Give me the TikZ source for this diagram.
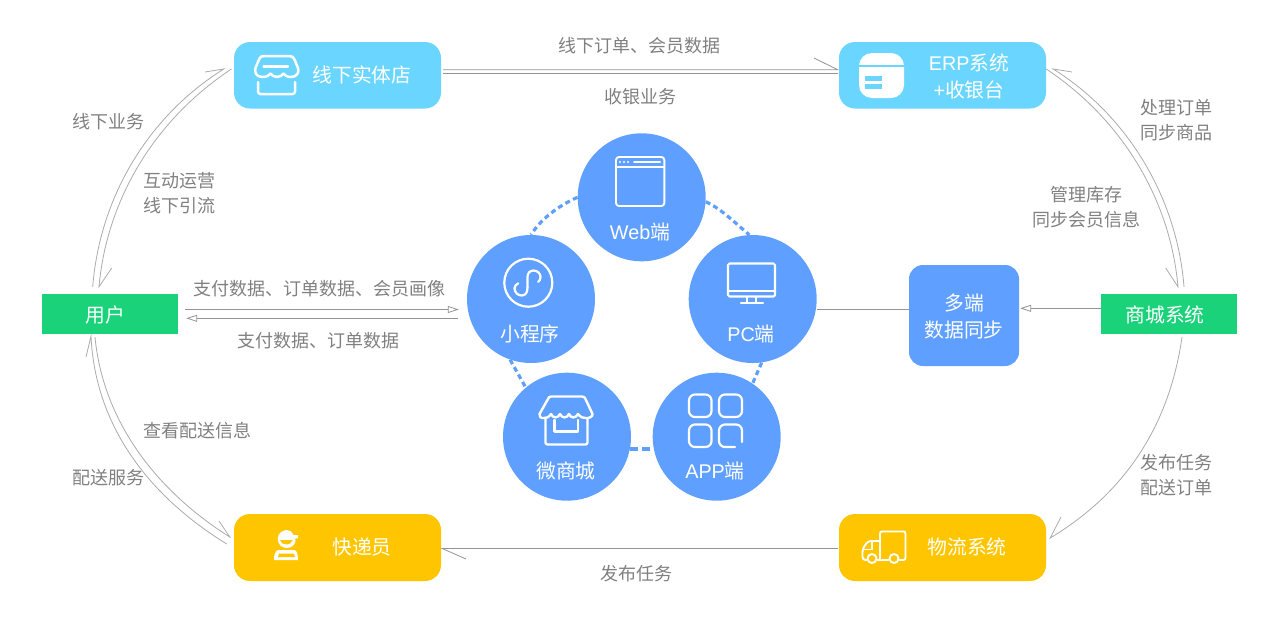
\documentclass[tikz,border=0pt]{standalone}
\usepackage{fontspec}
\setmainfont{Noto Sans CJK SC}
\newfontfamily\lat{Liberation Sans}
\usetikzlibrary{arrows.meta}
\definecolor{skyb}{HTML}{6AD6FF}
\definecolor{ambr}{HTML}{FFC600}
\definecolor{grn}{HTML}{1AD27A}
\definecolor{blu}{HTML}{5F9FFF}
\definecolor{txtg}{HTML}{808080}
\definecolor{lng}{HTML}{ABABAB}
\tikzset{
  cardbox/.style={rounded corners=16pt,minimum width=207pt,minimum height=66.5pt,inner sep=0pt,draw=none},
  greenbox/.style={fill=grn,minimum width=136pt,minimum height=40pt,inner sep=0pt,draw=none},
  disc/.style={circle,fill=blu,minimum size=128pt,inner sep=0pt,draw=none},
  wtext/.style={text=white,font=\fontsize{19.8}{22}\selectfont,inner sep=0pt,align=center},
  gtext/.style={text=txtg,font=\fontsize{18}{25}\selectfont,inner sep=0pt,align=center},
  conn/.style={draw=lng,line width=0.8pt,line join=miter},
  hconn/.style={draw=black!42,line width=0.8pt,line join=miter},
  ring/.style={draw=blu,line width=3.2pt,dash pattern=on 5pt off 3.5pt},
  icon/.style={draw=white,line width=2.2pt,line join=round,line cap=round,fill=none},
  triend/.style={-{Triangle[open,length=11pt,width=7pt]}},
}
\begin{document}
\begin{tikzpicture}[x=1pt,y=-1pt]
\useasboundingbox (0,0) rectangle (1280,630);

% discs and boxes
\node[disc] (web) at (641.7,197.3) {};
\node[disc] (pc) at (752.7,299) {};
\node[disc] (mini) at (531,299) {};
\node[disc] (shop) at (567,436.7) {};
\node[disc] (app) at (716.7,436.7) {};
\node[cardbox,fill=skyb] (store) at (337.5,75.25) {};
\node[cardbox,fill=skyb] (erp) at (942.5,75.25) {};
\node[cardbox,fill=ambr,minimum height=67pt] (courier) at (337.5,547.5) {};
\node[cardbox,fill=ambr,minimum height=67pt] (truck) at (942.5,547.5) {};
\node[greenbox] (user) at (110,314) {};
\node[greenbox] (mall) at (1169,314) {};
\node[fill=blu,rounded corners=14pt,minimum width=110pt,minimum height=101pt,inner sep=0pt] (sync) at (964,315.5) {};

% dotted ring
\draw[ring] (web.180) .. controls (558,206) and (541,219) .. (mini.90);
\draw[ring] (web.-4) .. controls (720,208) and (733,221) .. (pc.93);
\draw[ring] (pc.-82) -- (app.56);
\draw[ring] (mini.-109) -- (shop.130);
\draw[ring,dash pattern=on 8pt off 4pt] (shop.-11) -- (app.191);

% curved connectors
\draw[conn] ([shift={(-17.3pt,7pt)}]user.north) .. controls (100,195) and (150,115) .. ([shift={(-10pt,6.25pt)}]store.west) -- (205,72);
\draw[conn] ([shift={(-2.3pt,6.25pt)}]store.west) .. controls (157,118) and (107,197) .. ([shift={(-11pt,7pt)}]user.north) -- (111.7,268);
\draw[conn] ([shift={(15pt,7pt)}]mall.north) .. controls (1177,197) and (1127,115) .. ([shift={(7pt,6.25pt)}]erp.east) -- (1072,72);
\draw[conn] ([shift={(0pt,6.25pt)}]erp.east) .. controls (1120,118) and (1170,197) .. ([shift={(9pt,7pt)}]mall.north) -- (1165.7,268);
\draw[conn] ([shift={(-15pt,-3pt)}]user.south) .. controls (103,420) and (155,490) .. ([shift={(-4pt,10.5pt)}]courier.west) -- (219,521);
\draw[conn] ([shift={(-7pt,3.5pt)}]courier.west) .. controls (147,495) and (95,424) .. ([shift={(-19pt,-2pt)}]user.south) -- (86,357);
\draw[conn] ([shift={(13pt,-3pt)}]mall.south) .. controls (1170,420) and (1130,490) .. ([shift={(4pt,9.5pt)}]truck.east) -- (1061,517);

% straight connectors
\draw[hconn] ([shift={(2pt,5.5pt)}]store.east) -- ([shift={(-1pt,5.5pt)}]erp.west) -- (814,58);
\draw[hconn] ([shift={(-1pt,2pt)}]erp.west) -- ([shift={(2pt,2pt)}]store.east);
\draw[hconn] ([shift={(-1pt,-1pt)}]truck.west) -- ([shift={(1pt,-1pt)}]courier.east) -- (466,559);
\draw[hconn,triend] ([shift={(7pt,4.5pt)}]user.east) -- ([shift={(-8pt,-10.5pt)}]mini.west);
\draw[hconn,triend] ([shift={(-9pt,-19.3pt)}]mini.west) -- ([shift={(8pt,-4.3pt)}]user.east);
\draw[hconn] ([shift={(0pt,-10.3pt)}]pc.east) -- ([shift={(0pt,6.2pt)}]sync.west);
\draw[hconn,triend] ([shift={(0pt,5.7pt)}]mall.west) -- ([shift={(1pt,7.2pt)}]sync.east);

% white labels
\node[wtext] (tstore) at (362,75) {线下实体店};
\node[wtext,font=\fontsize{19.8}{27.5}\selectfont] (terp) at (969,76.5) {{\lat ERP}系统\\{\lat +}收银台};
\node[wtext] (tcourier) at (362,547) {快递员};
\node[wtext] (ttruck) at (967,547) {物流系统};
\node[wtext] (tuser) at (105,315) {用户};
\node[wtext] (tmall) at (1165,315) {商城系统};
\node[wtext,font=\fontsize{19.8}{27}\selectfont] (tsync) at (964,316) {多端\\数据同步};
\node[wtext] (tweb) at (640,232) {{\lat Web}端};
\node[wtext] (tmini) at (530,334) {小程序};
\node[wtext] (tpc) at (751,334) {{\lat PC}端};
\node[wtext] (tshop) at (566,471) {微商城};
\node[wtext] (tapp) at (715,471) {{\lat APP}端};

% grey labels
\node[gtext] (l1) at (108,121.7) {线下业务};
\node[gtext] (l2) at (179,193.2) {互动运营\\线下引流};
\node[gtext] (l3) at (639,45.7) {线下订单、会员数据};
\node[gtext] (l4) at (640,96.7) {收银业务};
\node[gtext] (l5) at (1176,120.2) {处理订单\\同步商品};
\node[gtext] (l6) at (1086,207.2) {管理库存\\同步会员信息};
\node[gtext] (l7) at (319,288.7) {支付数据、订单数据、会员画像};
\node[gtext] (l8) at (318,340.7) {支付数据、订单数据};
\node[gtext] (l9) at (197,430.7) {查看配送信息};
\node[gtext] (l10) at (108,477.7) {配送服务};
\node[gtext] (l11) at (1176,475.2) {发布任务\\配送订单};
\node[gtext] (l12) at (636,573.7) {发布任务};

% store icon
\draw[icon,line width=2.5pt] (264,56) -- (289,56) .. controls (292,56) and (293.5,57) .. (294.5,59.5) -- (298,68) .. controls (299.5,72) and (297,77) .. (291,77)
  .. controls (287,77) and (285,75.5) .. (283.5,73.5) .. controls (281,78) and (273,78) .. (270.5,73.5)
  .. controls (269,75.5) and (267,77) .. (262,77) .. controls (256.5,77) and (254,72) .. (255.5,68) -- (259,59.5) .. controls (260,57) and (261,56) .. (264,56) -- cycle;
\draw[icon,line width=2.3pt] (263.5,66.5) -- (288,66.5);
\draw[icon,line width=2.5pt,rounded corners=2.5pt] (258,82) -- (258,94) -- (295,94) -- (295,82);

% ERP icon
\fill[white,rounded corners=13pt] (859,53) rectangle (904,98);
\fill[skyb] (858,65) rectangle (905,66.7);
\fill[skyb] (865,76) rectangle (882,81);
\fill[skyb] (865,84) rectangle (882,89);

% courier icon
\fill[white] (277.7,539) .. controls (277.7,533) and (283,530) .. (287,530) .. controls (290,530) and (292.5,532) .. (293.5,535) -- (298,535) -- (298,538.3) -- (295.5,538.3) .. controls (296.5,544) and (292,548) .. (286.7,548) .. controls (281.7,548) and (277.7,544) .. (277.7,539) -- cycle;
\fill[ambr] (280,540) .. controls (281,546) and (291.5,546) .. (292.7,540) -- cycle;
\fill[white] (278,550) -- (295,550) .. controls (297,551.5) and (298,555) .. (298,560) -- (274,560) .. controls (274,555) and (275,551.5) .. (278,550) -- cycle;
\fill[ambr] (279,553.7) -- (294,553.7) -- (295,557) -- (278,557) -- cycle;

% truck icon
\draw[icon,line width=1.9pt,rounded corners=2pt] (880,560) -- (880,531.5) -- (905.5,531.5) -- (905.5,560) -- (899.5,560);
\draw[icon,line width=1.9pt] (888.5,560) -- (877.5,560);
\draw[icon,line width=1.9pt,rounded corners=3pt] (880,541) -- (868,541) -- (862.5,549) -- (862.5,560) -- (866.5,560);
\draw[icon,line width=1.9pt] (863,549.5) -- (872,549.5) -- (872,541.5);
\draw[icon,line width=1.9pt] (872,558.5) circle (4.5pt);
\draw[icon,line width=1.9pt] (894,558.5) circle (4.5pt);

% web icon
\draw[icon,line width=1.9pt,rounded corners=3pt] (616,157) rectangle (664.3,206);
\draw[icon,line width=1.9pt] (616,166.7) -- (664.3,166.7);
\foreach \dx in {620,624,628} \fill[white] (\dx,162) circle (1.1pt);
\draw[icon,line width=2pt] (634,162) -- (660,162);

% pc icon
\draw[icon,line width=2.1pt,rounded corners=1.5pt] (728,263.5) rectangle (775,296.5);
\draw[icon,line width=2pt] (728,291) -- (775,291);
\draw[icon,line width=2pt] (746.5,297) -- (746.5,302.5);
\draw[icon,line width=2pt] (756,297) -- (756,302.5);
\draw[icon,line width=2.2pt] (741,303) -- (763,303);

% mini-program icon
\draw[icon] (528.3,282.7) circle (24pt);
\draw[icon] (527.5,287.5) .. controls (527.5,292.5) and (525.5,295.5) .. (521.7,295.5) .. controls (517.5,295.5) and (514.5,292) .. (514.5,288.3) .. controls (514.5,286) and (516.2,284.3) .. (518.3,283.3);
\draw[icon] (527.5,287.5) -- (527.5,277) .. controls (527.5,273) and (530,270.5) .. (533.5,270.5) .. controls (537.5,270.5) and (540.5,273.5) .. (540.5,277) .. controls (540.5,279) and (539.8,280.8) .. (538.2,281.8);

% shop icon
\draw[icon,line width=2.4pt] (551,396.5) -- (582,396.5) .. controls (584,396.5) and (585,397.5) .. (585.5,399) -- (592.5,414) .. controls (593,416.5) and (589,418.5) .. (586,418)
 .. controls (583,418.5) and (580.5,417) .. (578,414) .. controls (576,418.5) and (570.5,418.5) .. (569,414) .. controls (567,418.5) and (562,418.5) .. (560,414)
 .. controls (558,418.5) and (553,418.5) .. (551,414) .. controls (549,417) and (546.5,418.5) .. (544,418) .. controls (541,418.5) and (538.5,416.5) .. (539.5,414) -- (548,399) .. controls (548.5,397.5) and (549.5,396.5) .. (551,396.5) -- cycle;
\draw[icon,line width=2.4pt,rounded corners=2pt] (545.5,419) -- (545.5,444.5) -- (587.5,444.5) -- (587.5,419);
\draw[icon,line width=2.4pt] (554.5,420) -- (554.5,431.5) -- (578,431.5) -- (578,420);

% app icon
\draw[icon,rounded corners=6pt] (689,394.5) rectangle (711.5,417);
\draw[icon,rounded corners=6pt] (719,394.5) rectangle (742,417);
\draw[icon,rounded corners=6pt] (689,424.5) rectangle (711.5,447);
\draw[icon,rounded corners=6pt] (742,442) -- (742,424.5) -- (719,424.5) -- (719,447) -- (735,447);
\end{tikzpicture}
\end{document}
